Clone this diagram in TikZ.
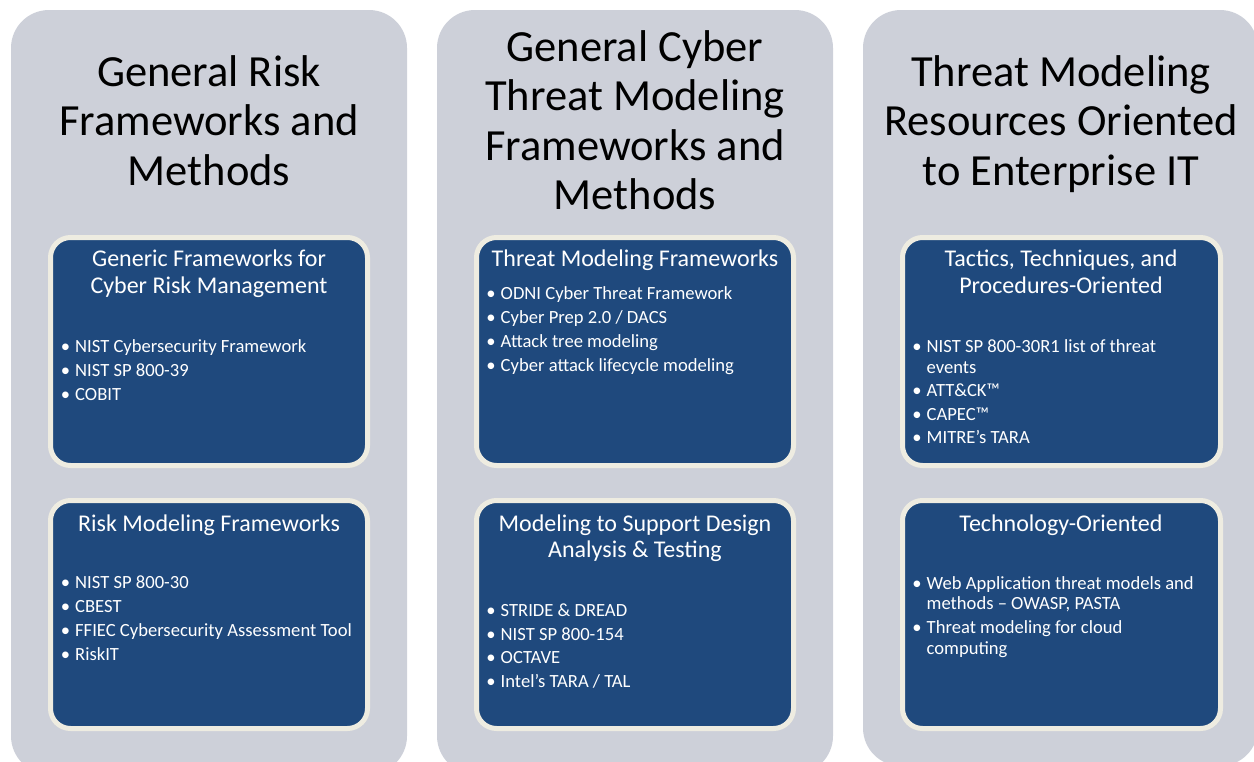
\documentclass[tikz,border=0pt]{standalone}
\usepackage{fontspec}
\setmainfont{Carlito}
\definecolor{colgray}{HTML}{CDD0D9}
\definecolor{boxblue}{HTML}{1F497D}
\definecolor{boxrim}{HTML}{EEECE1}
\newcommand{\bul}{\llap{\textbullet\hspace{5pt}}}
\begin{document}
\begin{tikzpicture}[x=1pt,y=-1pt,
  column/.style={fill=colgray, rounded corners=38pt},
  panel/.style={fill=boxblue, draw=boxrim, line width=5pt, rounded corners=20pt},
  coltitle/.style={font=\fontsize{44.5}{49.5}\selectfont, align=center, text=black, inner sep=0pt, anchor=base},
  paneltitle/.style={font=\fontsize{24}{27}\selectfont, align=center, text=white, inner sep=0pt, anchor=base},
  item/.style={font=\fontsize{18.6}{20.5}\selectfont, text=white, inner sep=0pt, anchor=base west}]
\useasboundingbox (0,0) rectangle (1254,761);
\clip (0,0) rectangle (1254,761);
% columns
\fill[column] (11,10) rectangle (407,774);
\fill[column] (437,10) rectangle (833,774);
\fill[column] (863,10) rectangle (1258,766);
% panels
\draw[panel] (50.5,237.5) rectangle (367.5,465.5);
\draw[panel] (50.5,500.5) rectangle (367.5,728.5);
\draw[panel] (476.5,237.5) rectangle (793.5,465.5);
\draw[panel] (476.5,500.5) rectangle (793.5,728.5);
\draw[panel] (902.5,237.5) rectangle (1220.5,465.5);
\draw[panel] (902.5,500.5) rectangle (1220.5,728.5);
% column titles (first baseline)
\node[coltitle] (t1a) at (209,86) {General Risk};
\node[coltitle] (t1b) at (209,135.5) {Frameworks and};
\node[coltitle] (t1c) at (209,185) {Methods};
\node[coltitle] (t2a) at (635,61) {General Cyber};
\node[coltitle] (t2b) at (635,110.5) {Threat Modeling};
\node[coltitle] (t2c) at (635,160) {Frameworks and};
\node[coltitle] (t2d) at (635,209.5) {Methods};
\node[coltitle] (t3a) at (1061,86) {Threat Modeling};
\node[coltitle] (t3b) at (1061,135.5) {Resources Oriented};
\node[coltitle] (t3c) at (1061,185) {to Enterprise IT};
% panel titles
\node[paneltitle] (p1a) at (209,266.5) {Generic Frameworks for};
\node[paneltitle] (p1b) at (209,293.5) {Cyber Risk Management};
\node[paneltitle] (p2a) at (209,531) {Risk Modeling Frameworks};
\node[paneltitle] (p3a) at (635,266.5) {Threat Modeling Frameworks};
\node[paneltitle] (p4a) at (635,531.5) {Modeling to Support Design};
\node[paneltitle] (p4b) at (635,557.5) {Analysis \& Testing};
\node[paneltitle] (p5a) at (1061,266.5) {Tactics, Techniques, and};
\node[paneltitle] (p5b) at (1061,293.5) {Procedures-Oriented};
\node[paneltitle] (p6a) at (1061,531) {Technology-Oriented};
% items: left top
\node[item] (i11) at (75,352) {\bul NIST Cybersecurity Framework};
\node[item] (i12) at (75,376) {\bul NIST SP 800-39};
\node[item] (i13) at (75,400) {\bul COBIT};
% left bottom
\node[item] (i21) at (75,588) {\bul NIST SP 800-30};
\node[item] (i22) at (75,612) {\bul CBEST};
\node[item] (i23) at (75,636) {\bul FFIEC Cybersecurity Assessment Tool};
\node[item] (i24) at (75,660) {\bul RiskIT};
% middle top
\node[item] (i31) at (500.5,299) {\bul ODNI Cyber Threat Framework};
\node[item] (i32) at (500.5,323) {\bul Cyber Prep 2.0 / DACS};
\node[item] (i33) at (500.5,347) {\bul Attack tree modeling};
\node[item] (i34) at (500.5,371) {\bul Cyber attack lifecycle modeling};
% middle bottom
\node[item] (i41) at (500.5,616) {\bul STRIDE \& DREAD};
\node[item] (i42) at (500.5,640) {\bul NIST SP 800-154};
\node[item] (i43) at (500.5,663) {\bul OCTAVE};
\node[item] (i44) at (500.5,687) {\bul Intel’s TARA / TAL};
% right top
\node[item] (i51) at (926.5,352.5) {\bul NIST SP 800-30R1 list of threat};
\node[item] (i51b) at (926.5,373) {events};
\node[item] (i52) at (926.5,396.5) {\bul ATT\&CK™};
\node[item] (i53) at (926.5,420) {\bul CAPEC™};
\node[item] (i54) at (926.5,443.5) {\bul MITRE’s TARA};
% right bottom
\node[item] (i61) at (926.5,589) {\bul Web Application threat models and};
\node[item] (i61b) at (926.5,609.5) {methods – OWASP, PASTA};
\node[item] (i62) at (926.5,633.5) {\bul Threat modeling for cloud};
\node[item] (i62b) at (926.5,654) {computing};
\end{tikzpicture}
\end{document}
